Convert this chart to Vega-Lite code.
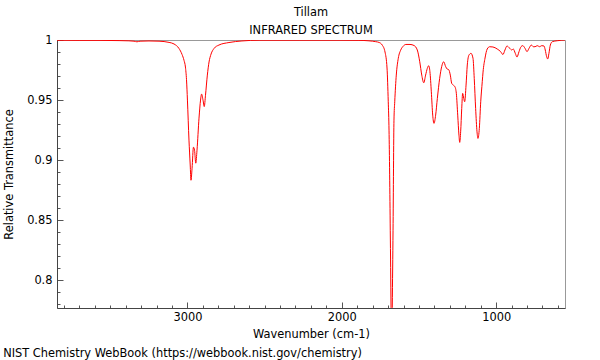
{
  "$schema": "https://vega.github.io/schema/vega-lite/v6.json",
  "padding": {"left": 3, "top": 6, "right": 5, "bottom": 3},
  "config": {
    "font": "DejaVu Sans",
    "view": {"stroke": "#999999", "strokeWidth": 1},
    "title": {"fontSize": 11.4, "fontWeight": "normal", "color": "#000000", "subtitleFontSize": 11.4, "subtitleColor": "#000000", "subtitleFont": "DejaVu Sans"},
    "axis": {"labelFontSize": 11.4, "titleFontSize": 11.4, "titleFontWeight": "normal", "labelColor": "#000000", "titleColor": "#000000", "domainColor": "#444444", "tickColor": "#555555", "grid": false, "labelOverlap": false}
  },
  "title": {"text": "NIST Chemistry WebBook (https://webbook.nist.gov/chemistry)", "orient": "bottom", "anchor": "start", "offset": 7.5},
  "vconcat": [
    {
      "width": 508,
      "height": 268,
      "title": {"text": "Tillam", "subtitle": "INFRARED SPECTRUM", "anchor": "middle", "offset": -2.5, "subtitlePadding": 7},
      "data": {"values": [
        {"w": 3845, "t": 0.9998}, {"w": 3702, "t": 0.9997}, {"w": 3573, "t": 0.9997}, {"w": 3443, "t": 0.9995},
        {"w": 3379, "t": 0.9993}, {"w": 3346, "t": 0.999}, {"w": 3327, "t": 0.9985}, {"w": 3307, "t": 0.999},
        {"w": 3249, "t": 0.9992}, {"w": 3184, "t": 0.999}, {"w": 3119, "t": 0.998}, {"w": 3087, "t": 0.9967},
        {"w": 3055, "t": 0.993}, {"w": 3035, "t": 0.988}, {"w": 3022, "t": 0.983}, {"w": 3013, "t": 0.9775},
        {"w": 3006, "t": 0.967}, {"w": 3000, "t": 0.95}, {"w": 2990, "t": 0.9167}, {"w": 2982, "t": 0.896},
        {"w": 2977, "t": 0.8833}, {"w": 2970, "t": 0.8933}, {"w": 2961, "t": 0.9108}, {"w": 2954, "t": 0.9083},
        {"w": 2946, "t": 0.8975}, {"w": 2938, "t": 0.9083}, {"w": 2925, "t": 0.935}, {"w": 2915, "t": 0.95},
        {"w": 2908, "t": 0.955}, {"w": 2899, "t": 0.95}, {"w": 2891, "t": 0.9446}, {"w": 2883, "t": 0.954},
        {"w": 2871, "t": 0.9708}, {"w": 2860, "t": 0.9817}, {"w": 2847, "t": 0.9883}, {"w": 2828, "t": 0.9929},
        {"w": 2796, "t": 0.9958}, {"w": 2731, "t": 0.9979}, {"w": 2647, "t": 0.9992}, {"w": 2536, "t": 0.9998},
        {"w": 2277, "t": 0.9998}, {"w": 2018, "t": 0.9998}, {"w": 1889, "t": 0.9997}, {"w": 1824, "t": 0.9993},
        {"w": 1780, "t": 0.9986}, {"w": 1759, "t": 0.998}, {"w": 1738, "t": 0.9958}, {"w": 1720, "t": 0.99},
        {"w": 1707, "t": 0.9767}, {"w": 1699, "t": 0.9486}, {"w": 1694, "t": 0.925}, {"w": 1686, "t": 0.8417},
        {"w": 1681, "t": 0.7775}, {"w": 1677, "t": 0.72}, {"w": 1673, "t": 0.7775}, {"w": 1668, "t": 0.8417},
        {"w": 1662, "t": 0.9333}, {"w": 1657, "t": 0.9486}, {"w": 1647, "t": 0.9708}, {"w": 1634, "t": 0.9848},
        {"w": 1618, "t": 0.9917}, {"w": 1604, "t": 0.9946}, {"w": 1584, "t": 0.9963}, {"w": 1558, "t": 0.9963},
        {"w": 1532, "t": 0.9954}, {"w": 1511, "t": 0.9917}, {"w": 1495, "t": 0.9819}, {"w": 1482, "t": 0.9708},
        {"w": 1469, "t": 0.9644}, {"w": 1457, "t": 0.9708}, {"w": 1446, "t": 0.9764}, {"w": 1437, "t": 0.9786},
        {"w": 1429, "t": 0.9736}, {"w": 1420, "t": 0.9569}, {"w": 1411, "t": 0.9375}, {"w": 1403, "t": 0.9306},
        {"w": 1392, "t": 0.9375}, {"w": 1381, "t": 0.9514}, {"w": 1366, "t": 0.9681}, {"w": 1353, "t": 0.9778},
        {"w": 1340, "t": 0.9819}, {"w": 1327, "t": 0.9778}, {"w": 1317, "t": 0.9758}, {"w": 1308, "t": 0.9754},
        {"w": 1297, "t": 0.9708}, {"w": 1288, "t": 0.9639}, {"w": 1278, "t": 0.9625}, {"w": 1267, "t": 0.9611},
        {"w": 1258, "t": 0.9556}, {"w": 1249, "t": 0.9375}, {"w": 1241, "t": 0.9208}, {"w": 1236, "t": 0.9148},
        {"w": 1230, "t": 0.9236}, {"w": 1223, "t": 0.9431}, {"w": 1217, "t": 0.9556}, {"w": 1210, "t": 0.9514},
        {"w": 1204, "t": 0.9486}, {"w": 1195, "t": 0.9625}, {"w": 1187, "t": 0.9792}, {"w": 1176, "t": 0.9875},
        {"w": 1163, "t": 0.9889}, {"w": 1150, "t": 0.9848}, {"w": 1142, "t": 0.9681}, {"w": 1133, "t": 0.9431},
        {"w": 1124, "t": 0.9236}, {"w": 1118, "t": 0.9181}, {"w": 1109, "t": 0.9264}, {"w": 1100, "t": 0.9486},
        {"w": 1090, "t": 0.9653}, {"w": 1085, "t": 0.9733}, {"w": 1072, "t": 0.985}, {"w": 1058, "t": 0.9925},
        {"w": 1042, "t": 0.9944}, {"w": 1021, "t": 0.9942}, {"w": 993, "t": 0.9925}, {"w": 971, "t": 0.9903},
        {"w": 956, "t": 0.9879}, {"w": 943, "t": 0.9917}, {"w": 930, "t": 0.995}, {"w": 912, "t": 0.9931},
        {"w": 899, "t": 0.9917}, {"w": 889, "t": 0.9925}, {"w": 876, "t": 0.9889}, {"w": 865, "t": 0.9858},
        {"w": 852, "t": 0.9903}, {"w": 839, "t": 0.9944}, {"w": 828, "t": 0.9953}, {"w": 813, "t": 0.9931},
        {"w": 800, "t": 0.9903}, {"w": 787, "t": 0.9931}, {"w": 772, "t": 0.9958}, {"w": 759, "t": 0.9944},
        {"w": 748, "t": 0.9944}, {"w": 734, "t": 0.9953}, {"w": 718, "t": 0.9944}, {"w": 705, "t": 0.9953},
        {"w": 690, "t": 0.995}, {"w": 682, "t": 0.9917}, {"w": 673, "t": 0.9861}, {"w": 666, "t": 0.9842},
        {"w": 658, "t": 0.9889}, {"w": 649, "t": 0.9958}, {"w": 636, "t": 0.9986}, {"w": 604, "t": 0.9994},
        {"w": 554, "t": 1.0}
      ]},
      "mark": {"type": "line", "color": "#ff0000", "strokeWidth": 1, "clip": true, "interpolate": "monotone"},
      "encoding": {
        "x": {
          "field": "w", "type": "quantitative",
          "scale": {"domain": [554, 3845], "reverse": true, "nice": false, "zero": false},
          "axis": {
            "title": "Wavenumber (cm-1)",
            "values": [600, 700, 800, 900, 1000, 1100, 1200, 1300, 1400, 1500, 1600, 1700, 1800, 1900, 2000, 2100, 2200, 2300, 2400, 2500, 2600, 2700, 2800, 2900, 3000, 3100, 3200, 3300, 3400, 3500, 3600, 3700, 3800],
            "labelExpr": "datum.value % 1000 === 0 ? format(datum.value, 'd') : ''",
            "tickSize": {"condition": {"test": "datum.value % 1000 === 0", "value": -6}, "value": -3},
            "labelPadding": 9.5,
            "titlePadding": 3
          }
        },
        "y": {
          "field": "t", "type": "quantitative",
          "scale": {"domain": [0.777, 1.0], "nice": false, "zero": false},
          "axis": {
            "title": "Relative Transmittance",
            "values": [0.78, 0.79, 0.8, 0.81, 0.82, 0.83, 0.84, 0.85, 0.86, 0.87, 0.88, 0.89, 0.9, 0.91, 0.92, 0.93, 0.94, 0.95, 0.96, 0.97, 0.98, 0.99, 1.0],
            "labelExpr": "round(datum.value * 100) % 5 === 0 ? format(datum.value, '.2~f') : ''",
            "tickSize": {"condition": {"test": "round(datum.value * 100) % 5 === 0", "value": -6}, "value": -3},
            "labelPadding": 11,
            "titlePadding": 12
          }
        }
      }
    }
  ]
}
